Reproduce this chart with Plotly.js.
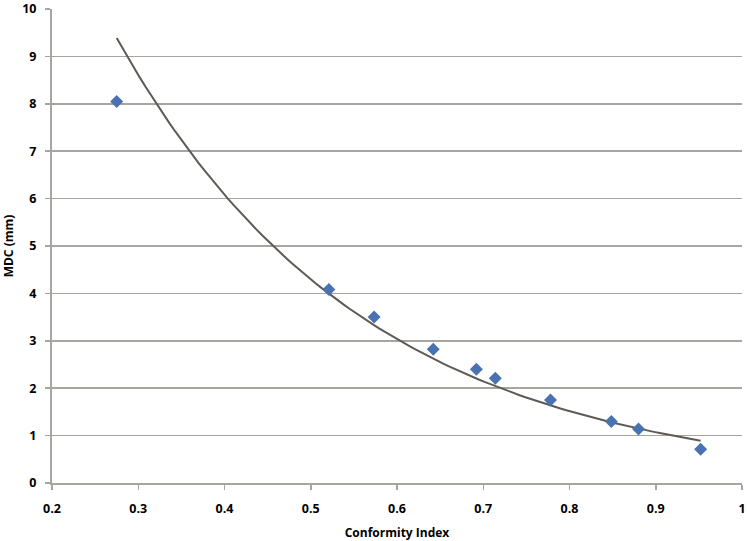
<!DOCTYPE html>
<html>
<head>
<meta charset="utf-8">
<script src="https://cdn.plot.ly/plotly-3.0.1.min.js"></script>
<style>
  html, body { margin: 0; padding: 0; background: #fff; }
  #chart { width: 747px; height: 541px; }
</style>
</head>
<body>
<div id="chart"></div>
<script>
// --- Data ---
var conformityIndex = [0.275, 0.521, 0.5735, 0.642, 0.692, 0.714, 0.778, 0.8485, 0.880, 0.952];
var mdcValues = [8.05, 4.08, 3.50, 2.82, 2.40, 2.21, 1.75, 1.30, 1.14, 0.71];

var xTickValues = [0.2, 0.3, 0.4, 0.5, 0.6, 0.7, 0.8, 0.9, 1];
var xTickLabels = ['0.2', '0.3', '0.4', '0.5', '0.6', '0.7', '0.8', '0.9', '1'];
var yTickValues = [0, 1, 2, 3, 4, 5, 6, 7, 8, 9, 10];

// --- Exponential trendline (least squares on ln y, like a spreadsheet) ---
function expFit(xs, ys) {
    var n = xs.length;
    var lny = ys.map(function (v) { return Math.log(v); });
    var mx = xs.reduce(function (a, b) { return a + b; }, 0) / n;
    var my = lny.reduce(function (a, b) { return a + b; }, 0) / n;
    var sxy = 0, sxx = 0;
    for (var i = 0; i < n; i++) {
        sxy += (xs[i] - mx) * (lny[i] - my);
        sxx += (xs[i] - mx) * (xs[i] - mx);
    }
    var b = sxy / sxx;
    var a = Math.exp(my - b * mx);
    return { a: a, b: b };
}

var fit = expFit(conformityIndex, mdcValues);
var xMin = Math.min.apply(null, conformityIndex);
var xMax = Math.max.apply(null, conformityIndex);
var trendX = [], trendY = [];
for (var i = 0; i <= 100; i++) {
    var x = xMin + (xMax - xMin) * i / 100;
    trendX.push(x);
    trendY.push(fit.a * Math.exp(fit.b * x));
}

var tickFont = { family: 'Open Sans, Liberation Sans, sans-serif', size: 12.5, color: '#000', weight: 700 };
var titleFont = { family: 'Open Sans, Liberation Sans, sans-serif', size: 12, color: '#000', weight: 700 };

var points = {
    x: conformityIndex, y: mdcValues,
    type: 'scatter', mode: 'markers',
    marker: { symbol: 'diamond', size: 10, color: '#4a72b0' },
    hoverinfo: 'x+y'
};
var trend = {
    x: trendX, y: trendY,
    type: 'scatter', mode: 'lines',
    line: { color: '#5f5a55', width: 2 },
    hoverinfo: 'skip'
};

var layout = {
    width: 747, height: 541,
    margin: { l: 52, r: 5, t: 9, b: 58 },
    paper_bgcolor: '#fff', plot_bgcolor: '#fff',
    showlegend: false,
    xaxis: {
        range: [0.2, 1],
        tickvals: xTickValues, ticktext: xTickLabels,
        showgrid: false, zeroline: false,
        showline: true, linecolor: '#a8a4a0', linewidth: 2,
        ticks: 'outside', ticklen: 5, tickcolor: '#a8a4a0', tickwidth: 1.5,
        tickfont: tickFont, ticklabelstandoff: 8,
        title: { text: 'Conformity Index', font: titleFont, standoff: 14 }
    },
    yaxis: {
        range: [0, 10],
        tickvals: yTickValues,
        showgrid: true, gridcolor: '#a8a4a0', gridwidth: 1.5,
        zeroline: false,
        showline: true, linecolor: '#a8a4a0', linewidth: 2,
        ticks: 'outside', ticklen: 5, tickcolor: '#a8a4a0', tickwidth: 1.5,
        tickfont: tickFont, ticklabelstandoff: 6, ticklabeloverflow: 'allow',
        title: { text: 'MDC (mm)', font: titleFont, standoff: 10 }
    }
};

Plotly.newPlot('chart', [trend, points], layout, { displayModeBar: false, staticPlot: true });
</script>
</body>
</html>
